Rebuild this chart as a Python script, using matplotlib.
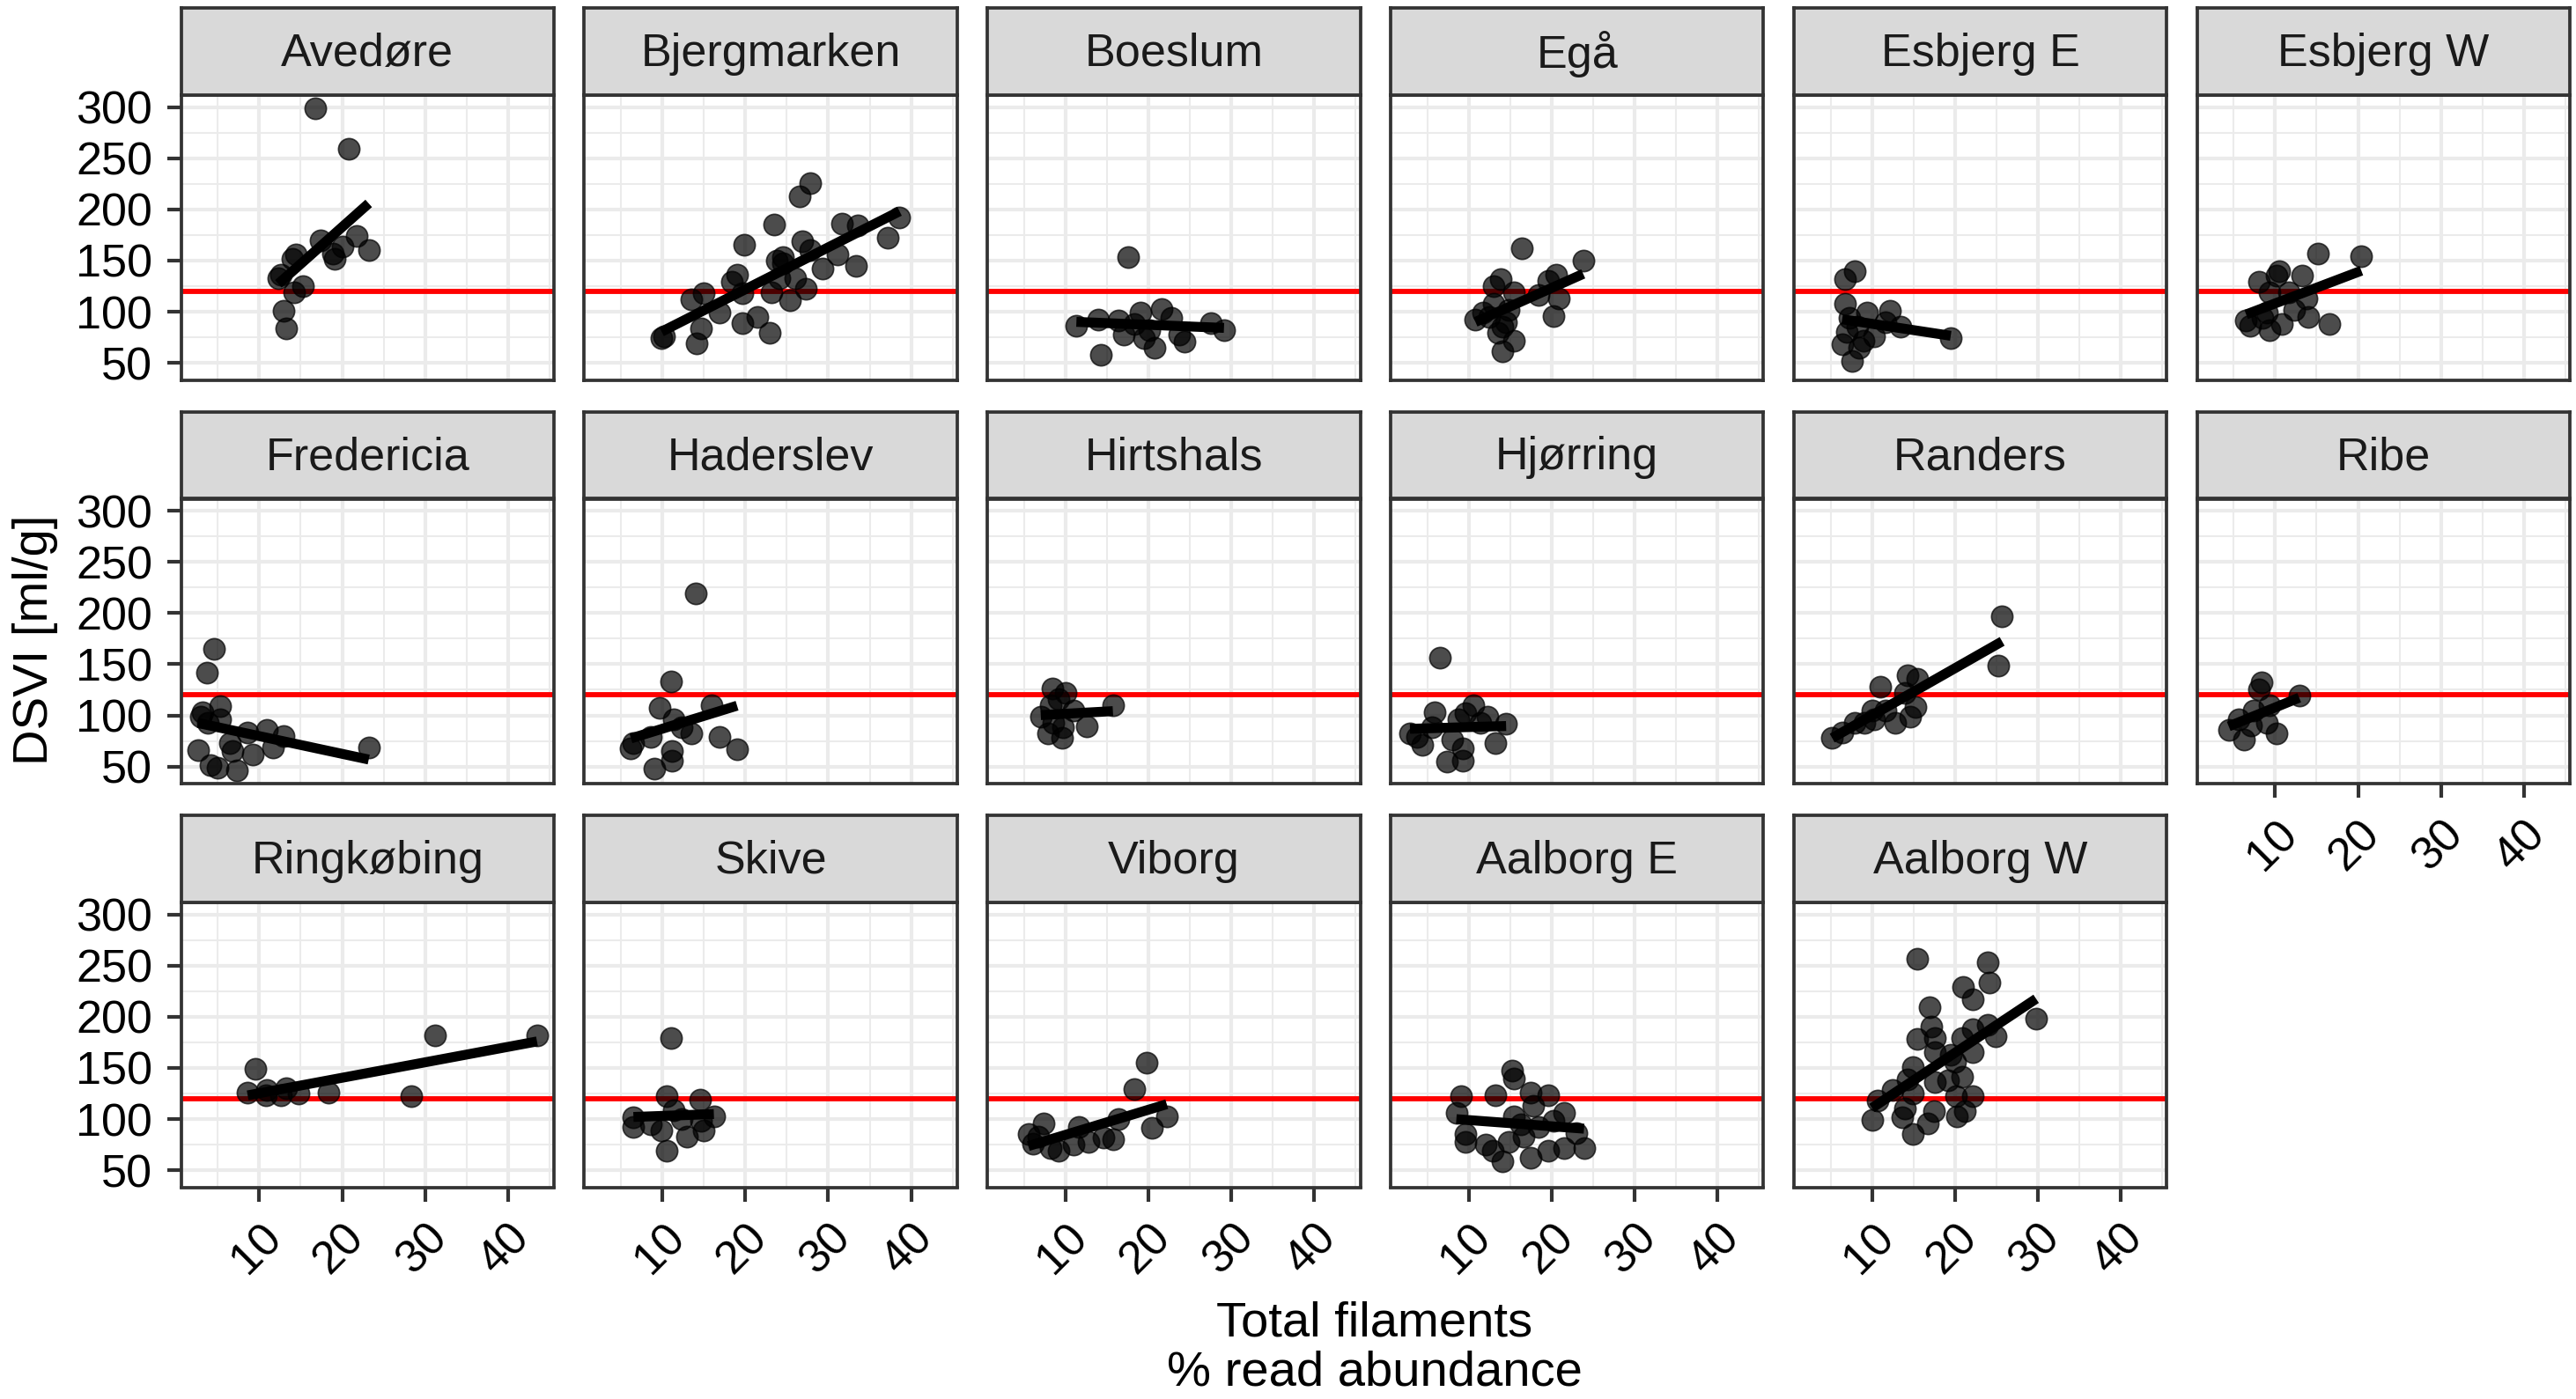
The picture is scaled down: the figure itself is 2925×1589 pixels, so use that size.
import matplotlib

matplotlib.use("Agg")

import matplotlib.pyplot as plt
import numpy as np
from matplotlib.ticker import MultipleLocator

plt.rcParams["font.family"] = ["Liberation Sans", "DejaVu Sans"]

# ---- data (x = total filaments %, y = DSVI ml/g) ----
AVEDORE_X = [16.8, 20.8, 17.4, 21.8, 20.0, 18.9, 19.1, 23.2, 14.4, 14.0, 12.6, 12.3, 15.3, 14.2, 12.9, 13.2]
AVEDORE_Y = [299, 259, 170, 174, 164, 157, 152, 160, 156, 152, 136, 133, 125, 119, 101, 84]

BJERG_X = [27.8, 26.6, 23.5, 19.9, 31.6, 33.6, 38.6, 37.2, 26.9, 27.8, 31.1, 33.3, 29.3, 23.8, 24.5, 26.0, 19.0,
           18.4, 27.3, 25.4, 23.2, 19.6, 15.0, 13.5, 16.9, 21.4, 19.6, 22.9, 14.7, 14.1, 9.9, 10.2, 24.1, 24.5]
BJERG_Y = [226, 213, 185, 165, 186, 184, 192, 172, 169, 160, 156, 145, 142, 150, 147, 133, 136,
           129, 122, 111, 119, 118, 118, 112, 99, 95, 89, 79, 84, 69, 74, 76, 133, 153]

BOESLUM_X = [17.5, 11.3, 13.9, 16.4, 19.0, 21.6, 22.8, 17.0, 19.5, 20.7, 24.3, 23.7, 27.5, 29.1, 14.3, 20.1, 18.3]
BOESLUM_Y = [153, 86, 92, 91, 99, 103, 94, 78, 74, 65, 71, 78, 89, 82, 58, 82, 88]

EGAA_X = [16.4, 23.8, 13.8, 13.0, 10.8, 11.7, 14.1, 15.4, 14.1, 14.8, 20.5, 19.6, 20.9, 20.2, 18.4, 15.4, 13.0,
          13.5, 12.5, 14.5]
EGAA_Y = [162, 150, 132, 125, 92, 99, 61, 72, 85, 102, 136, 130, 113, 96, 116, 119, 108, 79, 95, 90]

ESBJERG_E_X = [7.9, 6.7, 6.7, 7.3, 9.4, 12.2, 13.4, 6.4, 7.6, 8.5, 19.5, 10.3, 11.6, 8.2, 7.0, 9.0]
ESBJERG_E_Y = [140, 132, 108, 94, 99, 101, 85, 68, 52, 65, 74, 76, 90, 85, 80, 72]

ESBJERG_W_X = [15.2, 20.4, 10.5, 10.2, 13.2, 8.0, 13.8, 6.5, 9.3, 10.8, 14.0, 16.5, 11.7, 9.3, 12.3,
               7.0, 8.5, 9.0]
ESBJERG_W_Y = [157, 154, 140, 135, 135, 129, 113, 91, 82, 88, 95, 88, 119, 119, 102,
               86, 94, 99]

FREDERICIA_X = [4.5, 3.7, 5.3, 3.2, 2.9, 5.3, 3.8, 2.6, 4.1, 5.0, 7.3, 8.6, 10.9, 12.9, 11.7, 9.2, 6.5, 23.2, 6.8]
FREDERICIA_Y = [165, 142, 109, 103, 99, 96, 93, 66, 51, 49, 46, 83, 86, 80, 69, 62, 73, 69, 65]

HADERSLEV_X = [14.0, 11.0, 9.7, 15.9, 11.4, 16.9, 19.0, 9.0, 6.5, 6.2, 8.6, 13.5, 11.1, 11.1, 12.3]
HADERSLEV_Y = [219, 133, 107, 110, 96, 79, 67, 48, 73, 68, 79, 82, 65, 56, 88]

HIRTSHALS_X = [8.4, 10.0, 15.7, 7.0, 12.5, 7.9, 9.6, 11.0, 8.5, 8.2, 9.1, 9.7]
HIRTSHALS_Y = [126, 122, 110, 99, 89, 82, 78, 105, 93, 110, 116, 88]

HJORRING_X = [6.5, 5.9, 2.9, 4.4, 7.4, 9.3, 10.5, 14.5, 13.2, 11.4, 8.7, 8.0, 5.6, 12.3, 9.6, 9.3, 3.8]
HJORRING_Y = [156, 103, 82, 71, 55, 56, 110, 92, 73, 93, 96, 76, 88, 99, 102, 68, 79]

RANDERS_X = [25.7, 25.2, 14.3, 15.5, 11.0, 14.0, 15.2, 14.6, 10.0, 9.1, 5.2, 6.4, 12.8, 11.6, 10.3, 7.9]
RANDERS_Y = [197, 149, 139, 136, 128, 122, 108, 99, 105, 93, 78, 83, 93, 105, 96, 93]

RIBE_X = [8.4, 8.0, 12.9, 4.4, 6.2, 10.2, 7.4, 9.3, 5.6, 9.0, 7.1]
RIBE_Y = [132, 125, 119, 86, 76, 82, 105, 110, 96, 93, 90]

RINGKOBING_X = [43.5, 31.2, 9.5, 8.6, 10.9, 12.6, 14.7, 18.3, 28.3, 10.8, 13.2]
RINGKOBING_Y = [182, 182, 149, 126, 128, 123, 125, 126, 122, 123, 130]

SKIVE_X = [11.0, 10.5, 14.5, 16.2, 6.5, 6.5, 8.6, 10.5, 15.0, 12.9, 11.4, 12.3, 9.9, 14.7]
SKIVE_Y = [179, 122, 119, 103, 102, 92, 95, 69, 89, 83, 109, 100, 89, 98]

VIBORG_X = [19.8, 18.3, 22.2, 20.4, 16.4, 7.3, 5.5, 6.1, 9.1, 11.6, 14.6, 15.7, 12.8, 11.0, 8.2, 6.7]
VIBORG_Y = [155, 129, 103, 91, 100, 96, 85, 76, 69, 92, 82, 80, 78, 75, 72, 83]

AALBORG_E_X = [15.2, 15.4, 9.1, 13.2, 17.5, 19.6, 8.5, 15.4, 17.8, 21.5, 20.2, 9.6, 9.6, 12.0, 12.9, 14.1, 17.5,
               19.6, 21.5, 23.9, 23.0, 14.8, 16.6, 16.3, 18.4]
AALBORG_E_Y = [147, 140, 122, 123, 126, 123, 106, 103, 113, 106, 98, 85, 78, 75, 69, 59, 62,
               69, 72, 72, 86, 78, 83, 95, 92]

AALBORG_W_X = [15.5, 24.0, 24.2, 21.0, 22.2, 16.9, 29.8, 17.2, 24.0, 22.2, 24.9, 15.5, 17.6, 20.9, 17.6, 19.5,
               22.2, 20.0, 14.9, 14.3, 17.6, 19.2, 20.9, 12.5, 14.9, 20.1, 22.2, 10.7, 14.0, 17.5, 21.2, 20.2,
               10.0, 13.7, 16.7, 14.9]
AALBORG_W_Y = [257, 253, 233, 229, 217, 209, 198, 190, 192, 188, 181, 178, 179, 179, 165, 163,
               165, 156, 151, 139, 136, 138, 141, 128, 125, 122, 122, 118, 110, 108, 108, 103,
               99, 102, 96, 85]

SITES = ["Avedøre", "Bjergmarken", "Boeslum", "Egå", "Esbjerg E", "Esbjerg W",
         "Fredericia", "Haderslev", "Hirtshals", "Hjørring", "Randers", "Ribe",
         "Ringkøbing", "Skive", "Viborg", "Aalborg E", "Aalborg W"]
SITE_X = [AVEDORE_X, BJERG_X, BOESLUM_X, EGAA_X, ESBJERG_E_X, ESBJERG_W_X,
          FREDERICIA_X, HADERSLEV_X, HIRTSHALS_X, HJORRING_X, RANDERS_X, RIBE_X,
          RINGKOBING_X, SKIVE_X, VIBORG_X, AALBORG_E_X, AALBORG_W_X]
SITE_Y = [AVEDORE_Y, BJERG_Y, BOESLUM_Y, EGAA_Y, ESBJERG_E_Y, ESBJERG_W_Y,
          FREDERICIA_Y, HADERSLEV_Y, HIRTSHALS_Y, HJORRING_Y, RANDERS_Y, RIBE_Y,
          RINGKOBING_Y, SKIVE_Y, VIBORG_Y, AALBORG_E_Y, AALBORG_W_Y]

THRESHOLD = 120
X_TICKS = [10, 20, 30, 40]
Y_TICKS = [50, 100, 150, 200, 250, 300]

# ---- layout in pixels of the 2925 x 1589 output ----
W, H = 2925, 1589
DPI = 300
NCOL = 6
LEFT0, COL_STEP, PANEL_W = 205.5, 457.8, 423.5
TOP0, ROW_STEP, PANEL_H = 108.0, 458.5, 323.5
STRIP_H = 99.0

GRID = "#EBEBEB"
DARK = "#333333"

all_x = np.concatenate([np.asarray(v, float) for v in SITE_X])
all_y = np.concatenate([np.asarray(v, float) for v in SITE_Y])
xpad = 0.05 * (all_x.max() - all_x.min())
ypad = 0.05 * (all_y.max() - all_y.min())
XLIM = (all_x.min() - xpad, all_x.max() + xpad)
YLIM = (all_y.min() - ypad, all_y.max() + ypad)


def fig_rect(left, top, width, height):
    return [left / W, 1 - (top + height) / H, width / W, height / H]


fig = plt.figure(figsize=(W / DPI, H / DPI), dpi=DPI)
n = len(SITES)

for i, (name, xs, ys) in enumerate(zip(SITES, SITE_X, SITE_Y)):
    row, col = divmod(i, NCOL)
    left = LEFT0 + col * COL_STEP
    top = TOP0 + row * ROW_STEP

    ax = fig.add_axes(fig_rect(left, top, PANEL_W, PANEL_H))
    ax.set_xlim(*XLIM)
    ax.set_ylim(*YLIM)
    ax.xaxis.set_major_locator(MultipleLocator(10))
    ax.xaxis.set_minor_locator(MultipleLocator(5))
    ax.yaxis.set_major_locator(MultipleLocator(50))
    ax.yaxis.set_minor_locator(MultipleLocator(25))
    ax.grid(which="major", color=GRID, linewidth=1.0)
    ax.grid(which="minor", color=GRID, linewidth=0.5)
    ax.set_axisbelow(True)
    for sp in ax.spines.values():
        sp.set_color(DARK)
        sp.set_linewidth(0.9)
        sp.set_zorder(5)

    xs = np.asarray(xs, float)
    ys = np.asarray(ys, float)
    ax.axhline(THRESHOLD, color="red", linewidth=1.4, zorder=2)
    ax.scatter(xs, ys, s=34, color="black", alpha=0.7, edgecolors="black",
               linewidths=0.4, zorder=3)
    # linear fit over the data range, like geom_smooth(method = "lm")
    slope, icpt = np.polyfit(xs, ys, 1)
    fx = np.array([xs.min(), xs.max()])
    ax.plot(fx, slope * fx + icpt, color="black", linewidth=2.7,
            solid_capstyle="butt", zorder=4)

    ax.tick_params(which="minor", length=0)
    ax.tick_params(which="major", color=DARK, width=1.0, length=3.8,
                   labelsize=12.5, labelcolor="black", pad=4)

    if col == 0:
        ax.set_yticks(Y_TICKS)
    else:
        ax.tick_params(axis="y", which="major", length=0, labelleft=False)

    bottom_of_column = (i + NCOL) >= n
    if bottom_of_column:
        ax.set_xticks(X_TICKS)
        ax.set_xticklabels([str(t) for t in X_TICKS], rotation=45, ha="right",
                           va="top", rotation_mode="anchor")
    else:
        ax.tick_params(axis="x", which="major", length=0, labelbottom=False)

    # facet strip
    sax = fig.add_axes(fig_rect(left, top - STRIP_H, PANEL_W, STRIP_H))
    sax.set_facecolor("#D9D9D9")
    sax.set_xticks([])
    sax.set_yticks([])
    for sp in sax.spines.values():
        sp.set_color(DARK)
        sp.set_linewidth(0.9)
    sax.text(0.5, 0.47, name, transform=sax.transAxes, ha="center",
             va="center", fontsize=12.5, color="#1A1A1A")

fig.text(1561 / W, 1 - 1517 / H, "Total filaments", ha="center",
         va="baseline", fontsize=13.5)
fig.text(1561 / W, 1 - 1573 / H, "% read abundance", ha="center",
         va="baseline", fontsize=13.5)
fig.text(40 / W, 1 - 727 / H, "DSVI [ml/g]", rotation=90, ha="center",
         va="center", fontsize=13.5)

fig.savefig("out.png", dpi=DPI, facecolor="white")
plt.close(fig)
